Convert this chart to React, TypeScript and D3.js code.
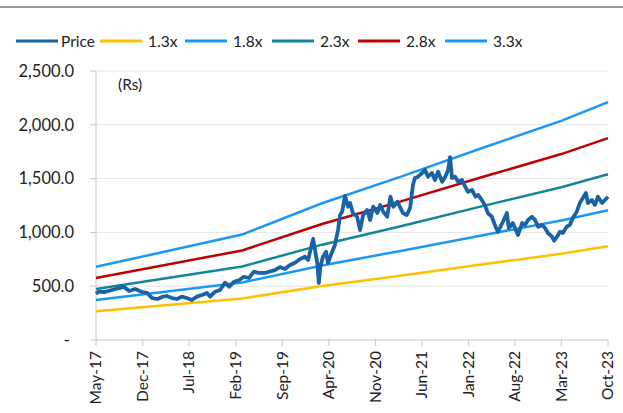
import React from 'react';
import * as d3 from 'd3';

const width = 623;
const height = 413;
const margin = { top: 71, right: 15, bottom: 73, left: 96 };

const parse = d3.timeParse('%Y-%m-%d');

// x axis tick labels (every 7 months)
const tickLabels = ['May-17', 'Dec-17', 'Jul-18', 'Feb-19', 'Sep-19', 'Apr-20', 'Nov-20', 'Jun-21', 'Jan-22', 'Aug-22', 'Mar-23', 'Oct-23'];
const yTicks = [0, 500, 1000, 1500, 2000, 2500];

// band points (P/B multiples)
const bandDates = ['2017-05-01', '2019-03-01', '2020-03-01', '2021-03-01', '2022-03-01', '2023-03-01', '2023-10-01'];
const band13 = [268, 386, 501, 599, 702, 802, 871];
const band18 = [371, 535, 693, 830, 972, 1111, 1206];
const band23 = [474, 683, 886, 1060, 1242, 1419, 1541];
const band28 = [577, 832, 1078, 1291, 1512, 1728, 1876];
const band33 = [680, 980, 1271, 1521, 1782, 2036, 2211];

const price: [string, number][] = [
  ['2017-05-01', 430], ['2017-05-13', 449], ['2017-06-11', 446], ['2017-07-13', 465], ['2017-08-15', 483],
  ['2017-09-07', 493], ['2017-09-30', 455], ['2017-10-27', 474], ['2017-11-29', 446], ['2017-12-21', 437],
  ['2018-01-13', 390], ['2018-02-06', 381], ['2018-02-28', 400], ['2018-03-21', 409], ['2018-04-14', 390],
  ['2018-05-06', 381], ['2018-05-29', 403], ['2018-06-21', 390], ['2018-07-14', 372], ['2018-08-06', 403],
  ['2018-08-29', 418], ['2018-09-21', 437], ['2018-10-05', 403], ['2018-10-28', 449], ['2018-11-20', 465],
  ['2018-12-13', 533], ['2019-01-01', 496], ['2019-01-24', 542], ['2019-02-16', 558], ['2019-03-09', 588],
  ['2019-04-01', 576], ['2019-04-24', 635], ['2019-05-16', 623], ['2019-06-13', 623], ['2019-07-29', 650],
  ['2019-08-21', 678], ['2019-09-13', 660], ['2019-10-06', 697], ['2019-10-29', 718], ['2019-11-21', 752],
  ['2019-12-14', 774], ['2019-12-28', 743], ['2020-01-20', 940], ['2020-02-08', 716], ['2020-02-15', 530],
  ['2020-02-22', 678], ['2020-03-05', 774], ['2020-03-19', 821], ['2020-03-28', 716], ['2020-04-16', 821],
  ['2020-04-29', 883], ['2020-05-13', 1022], ['2020-05-22', 1162], ['2020-06-01', 1192], ['2020-06-14', 1340],
  ['2020-06-28', 1239], ['2020-07-07', 1273], ['2020-07-20', 1180], ['2020-08-08', 1146], ['2020-08-22', 1022],
  ['2020-09-05', 1162], ['2020-09-23', 1208], ['2020-10-07', 1115], ['2020-10-21', 1239], ['2020-11-09', 1180],
  ['2020-11-22', 1255], ['2020-12-06', 1192], ['2020-12-24', 1146], ['2021-01-08', 1332], ['2021-01-21', 1239],
  ['2021-02-09', 1285], ['2021-02-22', 1230], ['2021-03-06', 1180], ['2021-03-24', 1162], ['2021-04-08', 1227],
  ['2021-04-21', 1440], ['2021-04-30', 1505], ['2021-05-14', 1518], ['2021-06-02', 1552], ['2021-06-15', 1580],
  ['2021-06-29', 1518], ['2021-07-17', 1552], ['2021-07-31', 1487], ['2021-08-14', 1564], ['2021-09-02', 1471],
  ['2021-09-16', 1518], ['2021-09-29', 1580], ['2021-10-08', 1700], ['2021-10-17', 1505], ['2021-10-31', 1518],
  ['2021-11-14', 1471], ['2021-12-02', 1487], ['2021-12-16', 1425], ['2021-12-29', 1378], ['2022-01-17', 1394],
  ['2022-02-01', 1332], ['2022-02-14', 1348], ['2022-03-02', 1301], ['2022-03-16', 1255], ['2022-03-30', 1180],
  ['2022-04-17', 1146], ['2022-05-01', 1069], ['2022-05-15', 1006], ['2022-05-24', 1040], ['2022-06-07', 1099],
  ['2022-06-25', 1180], ['2022-07-04', 1040], ['2022-07-22', 1087], ['2022-08-15', 976], ['2022-09-03', 1087],
  ['2022-09-16', 1069], ['2022-09-30', 1115], ['2022-10-18', 1146], ['2022-11-01', 1115], ['2022-11-15', 1053],
  ['2022-12-03', 1069], ['2022-12-17', 1040], ['2022-12-30', 994], ['2023-01-18', 960], ['2023-01-27', 923],
  ['2023-02-10', 960], ['2023-02-23', 1006], ['2023-03-08', 994], ['2023-03-26', 1053], ['2023-04-09', 1069],
  ['2023-04-23', 1134], ['2023-05-11', 1192], ['2023-05-25', 1273], ['2023-06-08', 1320], ['2023-06-22', 1366],
  ['2023-07-01', 1273], ['2023-07-19', 1301], ['2023-08-02', 1255], ['2023-08-16', 1332], ['2023-09-04', 1273],
  ['2023-09-17', 1301], ['2023-10-01', 1332],
];

const series = [
  { name: 'Price', color: '#1763a6', width: 3.8 },
  { name: '1.3x', color: '#ffc000', width: 2.5, values: band13 },
  { name: '1.8x', color: '#1a98f8', width: 2.5, values: band18 },
  { name: '2.3x', color: '#14869c', width: 2.5, values: band23 },
  { name: '2.8x', color: '#c00000', width: 2.5, values: band28 },
  { name: '3.3x', color: '#1a98f8', width: 2.5, values: band33 },
];
const legendX = [16, 100, 185, 272, 358, 445];

const font = 'Lato, "Noto Sans", sans-serif';

export default function App() {
  const x = d3.scaleTime()
    .domain([parse('2017-05-01') as Date, parse('2023-10-01') as Date])
    .range([margin.left, width - margin.right]);
  const y = d3.scaleLinear()
    .domain([0, 2500])
    .range([height - margin.bottom, margin.top]);

  const line = d3.line<[Date, number]>()
    .x((d) => x(d[0]))
    .y((d) => y(d[1]));

  const bandPts = (vals: number[]) => bandDates.map((d, i) => [parse(d) as Date, vals[i]] as [Date, number]);
  const pricePts = price.map((d) => [parse(d[0]) as Date, d[1]] as [Date, number]);

  const xTicks = tickLabels.map((_, i) => d3.timeMonth.offset(parse('2017-05-01') as Date, i * 7));
  const x0 = margin.left;
  const x1 = width - margin.right;
  const yBase = y(0);

  return (
    <svg width={width} height={height} style={{ position: 'absolute', left: 0, top: 0, background: '#fff' }}
      fontFamily={font}>
      <line x1={0} x2={width} y1={7} y2={7} stroke="#333" strokeWidth={1.2} />

      {/* legend */}
      {series.map((s, i) => (
        <g key={s.name} transform={`translate(${legendX[i]},41)`}>
          <line x1={0} x2={42} y1={0} y2={0} stroke={s.color} strokeWidth={3} />
          <text x={i === 0 ? 45 : 48} y={5.5} fontSize={15.5} fill="#222">{s.name}</text>
        </g>
      ))}

      {/* gridlines + y axis */}
      {yTicks.map((t) => (
        <g key={t}>
          {t > 0 && <line x1={x0} x2={x1} y1={y(t)} y2={y(t)} stroke="#e6e6e6" strokeWidth={1} />}
          <line x1={x0 - 6} x2={x0} y1={y(t)} y2={y(t)} stroke="#c8c8c8" strokeWidth={1} />
          <text x={t === 0 ? 70 : 74} y={y(t)} dy="0.35em" textAnchor="end" fontSize={16.5} fill="#222">
            {t === 0 ? '-' : d3.format(',.1f')(t)}
          </text>
        </g>
      ))}
      <line x1={x0} x2={x0} y1={margin.top} y2={yBase} stroke="#c8c8c8" strokeWidth={1} />
      <line x1={x0} x2={x1} y1={yBase} y2={yBase} stroke="#c8c8c8" strokeWidth={1} />

      {/* x axis */}
      {xTicks.map((d, i) => (
        <g key={tickLabels[i]}>
          <line x1={x(d)} x2={x(d)} y1={yBase} y2={yBase + 6} stroke="#c8c8c8" strokeWidth={1} />
          <text transform={`translate(${x(d)},${yBase + 11}) rotate(-90)`} dy="0.35em" textAnchor="end"
            fontSize={15.5} fill="#222">{tickLabels[i]}</text>
        </g>
      ))}

      <text x={118} y={90} fontSize={15.5} fill="#222">(Rs)</text>

      {/* bands */}
      {series.slice(1).map((s) => (
        <path key={s.name} d={line(bandPts(s.values as number[])) || ''} fill="none" stroke={s.color}
          strokeWidth={s.width} />
      ))}
      <path d={line(pricePts) || ''} fill="none" stroke={series[0].color} strokeWidth={series[0].width}
        strokeLinejoin="round" />
    </svg>
  );
}
